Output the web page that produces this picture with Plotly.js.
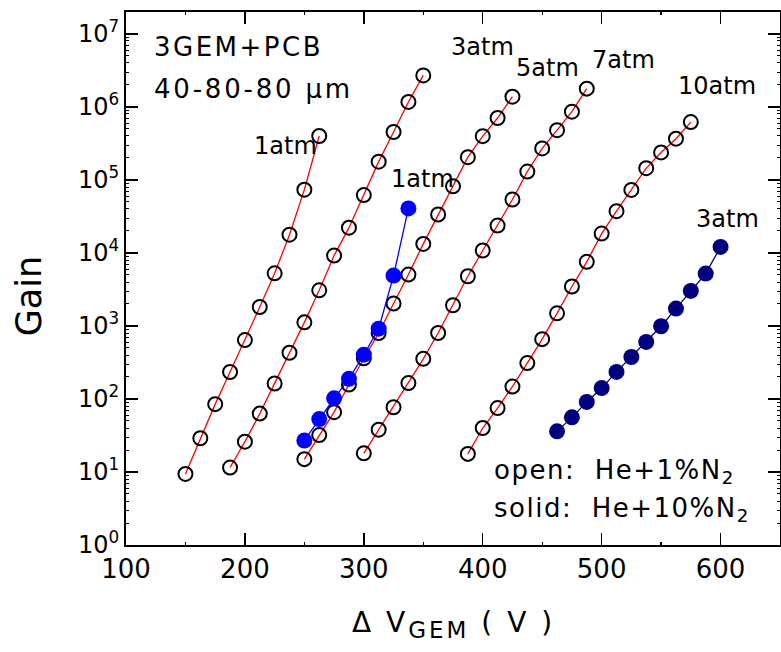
<!DOCTYPE html>
<html><head><meta charset="utf-8">
<script src="https://cdn.plot.ly/plotly-3.0.1.min.js"></script>
<style>body{margin:0;background:#fff}#chart{width:781px;height:652px}</style>
</head><body><div id="chart"></div>
<script>
// ---- data ----
const v1atmOpen  = [150,162.5,175,187.5,200,212.5,225,237.5,250,262.5];
const g1atmOpen  = [9.4,29,85,234,640,1820,5260,17800,73600,400000];

const v3atmOpen  = [187.5,200,212.5,225,237.5,250,262.5,275,287.5,300,312.5,325,337.5,350];
const g3atmOpen  = [11.5,26,63,163,430,1120,3080,9200,22200,62000,178000,453000,1170000,2700000];

const v5atmOpen  = [250,262.5,275,287.5,300,312.5,325,337.5,350,362.5,375,387.5,400,412.5,425];
const g5atmOpen  = [15,32,66,158,360,800,2030,5060,13300,33600,82000,205000,398000,705000,1380000];

const v7atmOpen  = [300,312.5,325,337.5,350,362.5,375,387.5,400,412.5,425,437.5,450,462.5,475,487.5];
const g7atmOpen  = [18,38,77,165,355,800,1920,4800,10800,23700,54000,130000,270000,480000,860000,1780000];

const v10atmOpen = [387.5,400,412.5,425,437.5,450,462.5,475,487.5,500,512.5,525,537.5,550,562.5,575];
const g10atmOpen = [17.7,40,75,148,310,660,1490,3470,7560,18400,37300,73000,145000,238000,367000,620000];

const v1atmSolid = [250,262.5,275,287.5,300,312.5,325,337.5];
const g1atmSolid = [27,53,102,189,404,918,4900,40700];

const v3atmSolid = [462.5,475,487.5,500,512.5,525,537.5,550,562.5,575,587.5,600];
const g3atmSolid = [36,56,91,141,235,376,605,990,1730,3020,5210,12100];

const xTickVals  = [100,200,300,400,500,600];
const xTickText  = ['100','200','300','400','500','600'];
const xMinorVals = [150,250,350,450,550];
const yTickVals  = [1,10,100,1000,10000,100000,1000000,10000000];
const yTickText  = ['10<sup>0</sup>','10<sup>1</sup>','10<sup>2</sup>','10<sup>3</sup>','10<sup>4</sup>','10<sup>5</sup>','10<sup>6</sup>','10<sup>7</sup>'];

const yMinorVals = [];
for (let d = 0; d < 7; d++) for (let k = 2; k <= 9; k++) yMinorVals.push(k * Math.pow(10, d));

const FONT = 'DejaVu Sans, Verdana, sans-serif';

function openTrace(x, y) {
  return {x: x, y: y, type: 'scatter', mode: 'lines+markers', showlegend: false, cliponaxis: false,
    line: {color: '#ff0000', width: 1.3},
    marker: {symbol: 'circle-open', size: 14, color: '#000000', line: {width: 2, color: '#000000'}}};
}
function solidTrace(x, y, c) {
  return {x: x, y: y, type: 'scatter', mode: 'lines+markers', showlegend: false, cliponaxis: false,
    line: {color: c, width: 1.3},
    marker: {symbol: 'circle', size: 16, color: c}};
}

const data = [
  openTrace(v1atmOpen, g1atmOpen),
  openTrace(v3atmOpen, g3atmOpen),
  openTrace(v5atmOpen, g5atmOpen),
  openTrace(v7atmOpen, g7atmOpen),
  openTrace(v10atmOpen, g10atmOpen),
  solidTrace(v1atmSolid, g1atmSolid, '#0000ff'),
  solidTrace(v3atmSolid, g3atmSolid, '#00007f')
];

function ann(text, x, y, size) {
  return {text: text, x: x, y: y, xref: 'x', yref: 'y', xanchor: 'left', yanchor: 'middle',
    showarrow: false, font: {family: FONT, size: size, color: '#000'}};
}

const annotations = [
  ann('<span style="letter-spacing:2.5px">3GEM+PCB</span>', 121.5, 6.82, 26),
  ann('<span style="letter-spacing:2.8px">40-80-80 μm</span>', 121.5, 6.24, 26),
  ann('1atm', 206, 5.47, 24),
  ann('1atm', 321, 5.01, 24),
  ann('3atm', 371.5, 6.825, 24),
  ann('5atm', 426, 6.536, 24),
  ann('7atm', 489.8, 6.646, 24),
  ann('10atm', 562.8, 6.29, 24),
  ann('3atm', 577.4, 4.46, 24),
  ann('<span style="letter-spacing:1.5px">open:  He+1%N<sub>2</sub></span>', 407.5, 1.0, 26),
  ann('<span style="letter-spacing:1.5px">solid:  He+10%N<sub>2</sub></span>', 407.5, 0.49, 26),
  {text: 'Gain', xref: 'paper', yref: 'paper', x: -0.148, y: 0.467, textangle: -90,
   xanchor: 'center', yanchor: 'middle', showarrow: false, font: {family: FONT, size: 35, color: '#000'}},
  {text: '<span style="letter-spacing:3px">Δ V<sub><span style="font-size:23px">GEM</span></sub> ( V )</span>', xref: 'paper', yref: 'paper', x: 0.5, y: -0.15,
   xanchor: 'center', yanchor: 'middle', showarrow: false, font: {family: FONT, size: 28, color: '#000'}}
];

const layout = {
  width: 781, height: 652,
  margin: {l: 126, r: 1, t: 12, b: 107, pad: 0},
  paper_bgcolor: '#ffffff', plot_bgcolor: '#ffffff',
  showlegend: false,
  xaxis: {type: 'linear', range: [100, 650], tickmode: 'array', tickvals: xTickVals, ticktext: xTickText,
    ticks: 'inside', ticklen: 12, tickwidth: 1.5, tickcolor: '#000',
    showline: true, linewidth: 2, linecolor: '#000', mirror: 'allticks',
    minor: {tickmode: 'array', tickvals: xMinorVals, ticks: 'inside', ticklen: 3, tickwidth: 1.2, tickcolor: '#000', showgrid: false},
    showgrid: false, zeroline: false,
    tickfont: {family: FONT, size: 26, color: '#000'}},
  yaxis: {type: 'log', range: [0, 7.3], tickmode: 'array', tickvals: yTickVals, ticktext: yTickText,
    ticks: 'inside', ticklen: 12, tickwidth: 1.5, tickcolor: '#000',
    showline: true, linewidth: 2, linecolor: '#000', mirror: 'allticks',
    minor: {tickmode: 'array', tickvals: yMinorVals, ticks: 'inside', ticklen: 3, tickwidth: 1, tickcolor: '#000', showgrid: false},
    showgrid: false, zeroline: false,
    tickfont: {family: FONT, size: 24, color: '#000'}},
  annotations: annotations
};

Plotly.newPlot('chart', data, layout, {displayModeBar: false, staticPlot: true});
</script>
</body></html>
